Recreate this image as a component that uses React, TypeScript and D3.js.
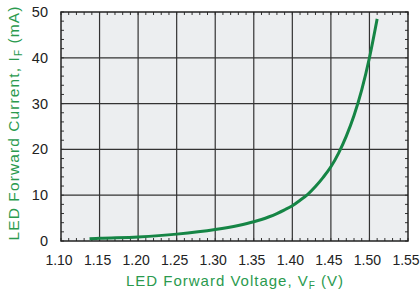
import React, { useEffect, useRef } from "react";
import * as d3 from "d3";

// LED forward voltage (V) vs forward current (mA)
const voltage = [1.137, 1.15, 1.2, 1.25, 1.3, 1.33, 1.35, 1.36, 1.37, 1.38, 1.39, 1.4, 1.41, 1.42, 1.43, 1.44, 1.45, 1.46, 1.47, 1.48, 1.49, 1.5, 1.51];
const current = [0.5, 0.6, 0.9, 1.5, 2.5, 3.4, 4.2, 4.7, 5.3, 6.0, 6.8, 7.7, 8.9, 10.2, 11.9, 13.9, 16.2, 19.2, 22.9, 27.4, 33, 40, 48.5];

const xTicks = [1.1, 1.15, 1.2, 1.25, 1.3, 1.35, 1.4, 1.45, 1.5, 1.55];
const yTicks = [0, 10, 20, 30, 40, 50];

const W = 420;
const H = 293;
const margin = { top: 12, right: 12, bottom: 52, left: 61 };
const GREEN = "#158545";
const LABEL_GREEN = "#2a9a4e";
const FONT = "'Liberation Sans', Arial, Helvetica, sans-serif";

const App: React.FC = () => {
  const ref = useRef<SVGSVGElement | null>(null);

  useEffect(() => {
    const svg = d3.select(ref.current);
    svg.selectAll("*").remove();

    const x = d3.scaleLinear().domain([1.1, 1.55]).range([margin.left, W - margin.right]);
    const y = d3.scaleLinear().domain([0, 50]).range([H - margin.bottom, margin.top]);
    const [x0, x1] = x.range();
    const [y0, y1] = y.range();

    svg
      .append("rect")
      .attr("x", x0)
      .attr("y", y1)
      .attr("width", x1 - x0)
      .attr("height", y0 - y1)
      .attr("fill", "#eceef0");

    // grid
    svg
      .append("g")
      .selectAll("line")
      .data(xTicks.slice(1, -1))
      .join("line")
      .attr("x1", (d) => x(d))
      .attr("x2", (d) => x(d))
      .attr("y1", y1)
      .attr("y2", y0)
      .attr("stroke", "#333")
      .attr("stroke-width", 1.2);

    svg
      .append("g")
      .selectAll("line")
      .data(yTicks.slice(1, -1))
      .join("line")
      .attr("x1", x0)
      .attr("x2", x1)
      .attr("y1", (d) => y(d))
      .attr("y2", (d) => y(d))
      .attr("stroke", "#333")
      .attr("stroke-width", 1.2);

    // minor ticks, inward on all four sides
    const minorX = d3.range(0, 46).map((i) => 1.1 + i * 0.01);
    const minorY = d3.range(0, 26).map((i) => i * 2);
    const t = 3;
    const ticks = svg.append("g").attr("stroke", "#333").attr("stroke-width", 1);
    minorX.forEach((v) => {
      ticks.append("line").attr("x1", x(v)).attr("x2", x(v)).attr("y1", y0).attr("y2", y0 - t);
      ticks.append("line").attr("x1", x(v)).attr("x2", x(v)).attr("y1", y1).attr("y2", y1 + t);
    });
    minorY.forEach((v) => {
      ticks.append("line").attr("x1", x0).attr("x2", x0 + t).attr("y1", y(v)).attr("y2", y(v));
      ticks.append("line").attr("x1", x1).attr("x2", x1 - t).attr("y1", y(v)).attr("y2", y(v));
    });

    svg
      .append("rect")
      .attr("x", x0)
      .attr("y", y1)
      .attr("width", x1 - x0)
      .attr("height", y0 - y1)
      .attr("fill", "none")
      .attr("stroke", "#222")
      .attr("stroke-width", 1.5);

    // curve
    const pts = voltage.map((v, i) => [v, current[i]] as [number, number]);
    const line = d3
      .line<[number, number]>()
      .x((d) => x(d[0]))
      .y((d) => y(d[1]))
      .curve(d3.curveMonotoneX);
    svg
      .append("path")
      .attr("d", line(pts))
      .attr("fill", "none")
      .attr("stroke", GREEN)
      .attr("stroke-width", 3);

    // tick labels
    svg
      .append("g")
      .selectAll("text")
      .data(xTicks)
      .join("text")
      .attr("x", (d) => x(d) - 2)
      .attr("y", 265)
      .attr("text-anchor", "middle")
      .attr("font-family", FONT)
      .attr("font-size", 14)
      .attr("fill", "#222")
      .text((d) => d.toFixed(2));

    svg
      .append("g")
      .selectAll("text")
      .data(yTicks)
      .join("text")
      .attr("x", 48)
      .attr("y", (d) => y(d) + 5)
      .attr("text-anchor", "end")
      .attr("font-family", FONT)
      .attr("font-size", 14.5)
      .attr("fill", "#222")
      .text((d) => d);

    // axis titles
    const xt = svg
      .append("text")
      .attr("x", 235)
      .attr("y", 286)
      .attr("text-anchor", "middle")
      .attr("font-family", FONT)
      .attr("font-size", 15)
      .attr("letter-spacing", 1)
      .attr("fill", LABEL_GREEN);
    xt.append("tspan").text("LED Forward Voltage, V");
    xt.append("tspan").attr("font-size", 10).attr("dy", 3).text("F");
    xt.append("tspan").attr("dy", -3).text(" (V)");

    const yt = svg
      .append("text")
      .attr("transform", `translate(18.5,123) rotate(-90)`)
      .attr("text-anchor", "middle")
      .attr("font-family", FONT)
      .attr("font-size", 15.5)
      .attr("letter-spacing", 1.1)
      .attr("fill", LABEL_GREEN);
    yt.append("tspan").text("LED Forward Current, I");
    yt.append("tspan").attr("font-size", 10).attr("dy", 3).text("F");
    yt.append("tspan").attr("dy", -3).text(" (mA)");
  }, []);

  return (
    <svg
      ref={ref}
      width={W}
      height={H}
      style={{ position: "fixed", left: 0, top: 0, background: "#fff" }}
    />
  );
};

export default App;
